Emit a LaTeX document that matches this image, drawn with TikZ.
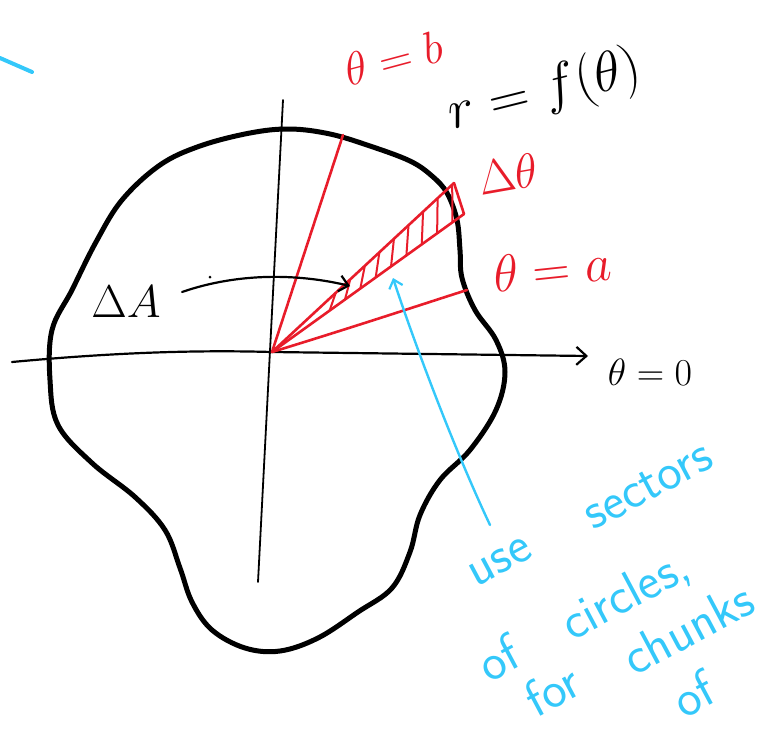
\RequirePackage{fix-cm}
\documentclass[tikz,border=0pt]{standalone}
\usepackage{amsmath}
\usepackage{amssymb}
\usepackage{tikz}
\usetikzlibrary{arrows.meta,calc,positioning}
\definecolor{SketchRed}{RGB}{232,28,42}
\definecolor{SketchCyan}{RGB}{52,200,250}

\begin{document}
\begin{tikzpicture}[x=1pt, y=-1pt,
    ink/.style={black, line width=2.2pt, line cap=round, line join=round},
    redink/.style={SketchRed, line width=2.6pt, line cap=round, line join=round},
    cyanink/.style={SketchCyan, line width=2.4pt, line cap=round},
    bigtext/.style={font=\fontsize{#1}{#1}\selectfont, inner sep=0pt},
    notetext/.style={SketchCyan, font=\sffamily\fontsize{52}{58}\selectfont, inner sep=0pt, rotate=28}]
    \useasboundingbox (0,0) rectangle (774,734);

    % Axes
    \coordinate (O) at (272,352);
    \coordinate (xl) at (12,362);
    \coordinate (xr) at (588,356);
    \coordinate (yt) at (283,100);
    \coordinate (yb) at (258,582);
    \draw[ink] (xl) .. controls (120,352) and (200,350) .. (O);
    \draw[ink, -{Straight Barb[length=10pt, width=18pt, line width=2.2pt]}] (O) -- (xr);
    \draw[ink, line width=1.8pt] (yt) -- (yb);

    % The region r = f(theta)
    \draw[black, line width=5pt, line join=round] plot[smooth cycle, tension=0.6] coordinates {
        (250,133) (290,129) (330,134) (370,146) (410,161) (432,176) (447,193)
        (457,220) (460,250) (462,278) (475,310) (496,340) (505,372) (496,410)
        (470,450) (440,480) (420,515) (410,552) (392,588) (358,612) (318,638)
        (280,651) (245,648) (212,630) (192,602) (180,568) (165,530) (135,497)
        (92,463) (58,425) (50,380) (52,330) (72,290) (96,242) (122,200)
        (160,165) (200,146)};

    % Bounding rays and the thin sector
    \coordinate (rb) at (343,135);
    \coordinate (ra) at (467,290);
    \coordinate (wu) at (454,183);
    \coordinate (wl) at (464,214);
    \draw[redink] (O) -- (rb);
    \draw[redink] (O) .. controls (360,325) and (420,305) .. (ra);
    \draw[redink] (O) -- (wu);
    \draw[redink] (O) -- (wl);
    \draw[redink] (wu) -- (wl);
    \foreach \t in {0.3,0.38,...,0.95}
        \draw[SketchRed, line width=2pt, line cap=round] ($(O)!\t!(wl)$) -- ($(O)!\t+0.05!(wu)$);

    % Labels
    \node[bigtext=46, SketchRed, rotate=15] (lb) at (394,58) {$\theta=b$};
    \node[bigtext=56, black, rotate=14] (lf) at (545,92) {$r=f(\theta)$};
    \node[bigtext=48, SketchRed, rotate=10] (ldt) at (508,174) {$\Delta\theta$};
    \node[bigtext=52, SketchRed, rotate=6] (la) at (552,268) {$\theta=a$};
    \node[bigtext=38, black] (lz) at (650,372) {$\theta=0$};
    \node[bigtext=46, black] (dA) at (126,302) {$\Delta A$};

    % Pointer from Delta A into the sector
    \coordinate (ps) at (182,292);
    \coordinate (tip) at (350,286);
    \draw[ink, -{Straight Barb[length=9pt, width=16pt, line width=2.2pt]}]
        (ps) .. controls (240,272) and (300,274) .. (tip);
    \fill (210,277) circle (1.5pt);

    % Note in cyan
    \coordinate (ctip) at (393,278);
    \coordinate (cend) at (490,525);
    \draw[cyanink, -{Straight Barb[length=8pt, width=14pt, line width=2.2pt]}]
        (cend) .. controls (450,440) and (410,330) .. (ctip);
    \node[notetext] (wuse) at (500,562) {use};
    \node[notetext] (wsec) at (648,486) {sectors};
    \node[notetext] (wof) at (498,658) {of};
    \node[notetext] (wcir) at (626,596) {circles,};
    \node[notetext] (wfor) at (552,690) {for};
    \node[notetext] (wchu) at (688,628) {chunks};
    \node[notetext] (wof2) at (693,694) {of};
    \draw[cyanink, line width=4pt] (0,58) -- (32,72);
\end{tikzpicture}
\end{document}
